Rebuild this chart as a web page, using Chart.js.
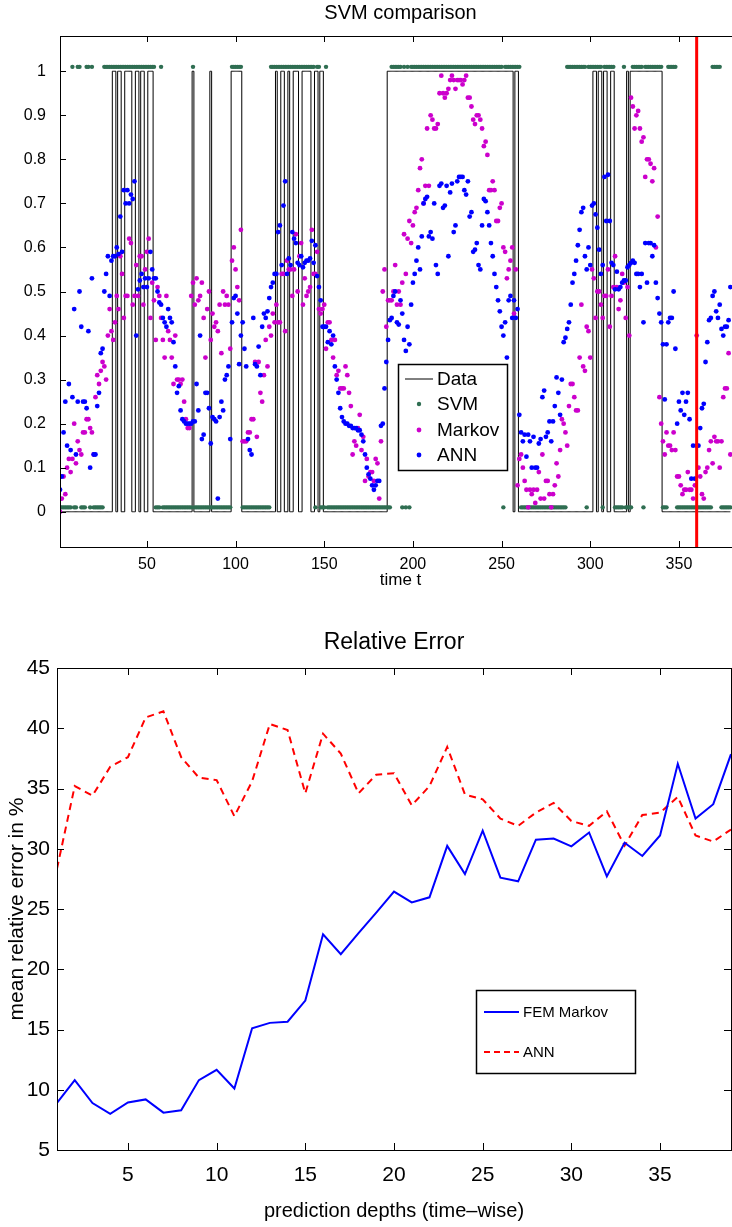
<!DOCTYPE html>
<html>
<head>
<meta charset="utf-8">
<script src="https://cdn.jsdelivr.net/npm/chart.js@4.4.1/dist/chart.umd.min.js"></script>
<style>
  html, body { margin: 0; padding: 0; background: #fff; overflow: hidden; width: 732px; height: 1227px; }
  #svm-box { position: absolute; left: 0; top: 0; width: 760px; height: 600px; }
  #error-box { position: absolute; left: 0; top: 600px; width: 732px; height: 627px; }
</style>
</head>
<body>
<div id="svm-box"><canvas id="svm-chart"></canvas></div>
<div id="error-box"><canvas id="error-chart"></canvas></div>
<script>
// --- SVM comparison (top) ---  values per time step t = 1, 2, 3, ...
const annValues = [
  0.05, 0.08, 0.18, 0.25, 0.15, 0.29, 0.14, 0.26, 0.46, 0.13,
  0.25, 0.50, 0.42, 0.25, 0.25, 0.235, 0.41, 0.10, 0.53, 0.13,
  0.13, 0.24, 0.27, 0.36, 0.37, 0.50, 0.54, 0.58, 0.49, 0.57,
  0.58, 0.58, 0.60, 0.585, 0.67, 0.59, 0.73, 0.70, 0.73, 0.70,
  0.72, 0.71, 0.75, 0.40, 0.505, 0.525, 0.54, 0.51, 0.53, 0.51,
  0.53, 0.59, 0.55, 0.53, 0.53, 0.50, 0.475, 0.47, 0.44, 0.43,
  0.42, 0.46, 0.44, 0.43, 0.385, 0.33, 0.27, 0.285, 0.23, 0.21,
  0.205, 0.20, 0.20, 0.20, 0.20, 0.205, 0.205, 0.29, 0.23, 0.40,
  0.165, 0.175, 0.27, 0.27, 0.235, 0.155, 0.215, 0.21, 0.205, 0.03,
  0.215, 0.25, 0.23, 0.30, 0.31, 0.33, 0.165, 0.43, 0.485, 0.49,
  0.45, 0.335, 0.40, 0.43, 0.37, 0.33, 0.165, 0.14, 0.13, 0.44,
  0.335, 0.33, 0.375, 0.31, 0.42, 0.45, 0.44, 0.455, 0.485, 0.51,
  0.52, 0.54, 0.54, 0.635, 0.65, 0.56, 0.695, 0.75, 0.54, 0.575,
  0.56, 0.635, 0.62, 0.61, 0.565, 0.56, 0.58, 0.555, 0.565, 0.57,
  0.57, 0.575, 0.615, 0.565, 0.605, 0.535, 0.51, 0.48, 0.42, 0.42,
  0.42, 0.385, 0.41, 0.38, 0.40, 0.33, 0.30, 0.27, 0.235, 0.215,
  0.205, 0.20, 0.20, 0.195, 0.195, 0.19, 0.19, 0.19, 0.185, 0.185,
  0.175, 0.16, 0.13, 0.10, 0.085, 0.075, 0.06, 0.05, 0.06, 0.07,
  0.07, 0.195, 0.20, 0.28, 0.34, 0.39, 0.435, 0.44, 0.49, 0.50,
  0.43, 0.425, 0.48, 0.45, 0.39, 0.365, 0.42, 0.38, 0.47, 0.52,
  0.54, 0.57, 0.60, 0.55, 0.625, 0.70, 0.71, 0.715, 0.625, 0.635,
  0.62, 0.70, 0.56, 0.54, 0.74, 0.745, 0.69, 0.695, 0.74, 0.58,
  0.725, 0.745, 0.635, 0.65, 0.75, 0.76, 0.76, 0.76, 0.73, 0.72,
  0.75, 0.67, 0.68, 0.59, 0.595, 0.61, 0.56, 0.55, 0.65, 0.71,
  0.705, 0.68, 0.65, 0.61, 0.58, 0.54, 0.51, 0.48, 0.455, 0.42,
  0.40, 0.43, 0.35, 0.48, 0.49, 0.44, 0.48, 0.44, 0.46, 0.22,
  0.18, 0.16, 0.175, 0.125, 0.175, 0.16, 0.10, 0.17, 0.10, 0.10,
  0.155, 0.165, 0.26, 0.275, 0.17, 0.18, 0.205, 0.16, 0.205, 0.24,
  0.305, 0.27, 0.22, 0.30, 0.385, 0.395, 0.415, 0.43, 0.47, 0.52,
  0.54, 0.57, 0.605, 0.64, 0.68, 0.69, 0.58, 0.55, 0.60, 0.56,
  0.695, 0.70, 0.675, 0.645, 0.595, 0.54, 0.56, 0.76, 0.66, 0.765,
  0.66, 0.565, 0.56, 0.505, 0.545, 0.505, 0.51, 0.52, 0.525, 0.525,
  0.555, 0.56, 0.565, 0.57, 0.565, 0.54, 0.54, 0.51, 0.54, 0.43,
  0.61, 0.52, 0.61, 0.61, 0.58, 0.605, 0.52, 0.485, 0.45, 0.43,
  0.38, 0.255, 0.38, 0.43, 0.44, 0.44, 0.50, 0.37, 0.20, 0.25,
  0.23, 0.27, 0.22, 0.25, 0.27, 0.21, 0.075, 0.15, 0.075, 0.15,
  0.15, 0.19, 0.235, 0.245, 0.34, 0.385, 0.435, 0.44, 0.49, 0.50,
  0.455, 0.44, 0.47, 0.415, 0.40, 0.42, 0.42, 0.435, 0.51
];

const markovValues = [
  0.00, 0.03, 0.08, 0.04, 0.10, 0.12, 0.09, 0.12, 0.20, 0.11,
  0.16, 0.14, 0.13, 0.18, 0.18, 0.21, 0.21, 0.19, 0.18, 0.13,
  0.26, 0.31, 0.29, 0.32, 0.34, 0.33, 0.30, 0.40, 0.46, 0.41,
  0.39, 0.43, 0.49, 0.46, 0.58, 0.54, 0.44, 0.49, 0.49, 0.62,
  0.61, 0.47, 0.49, 0.56, 0.49, 0.58, 0.58, 0.47, 0.55, 0.59,
  0.62, 0.44, 0.52, 0.48, 0.39, 0.51, 0.49, 0.44, 0.39, 0.35,
  0.49, 0.41, 0.39, 0.35, 0.29, 0.40, 0.30, 0.30, 0.29, 0.30,
  0.25, 0.21, 0.19, 0.19, 0.49, 0.52, 0.47, 0.53, 0.48, 0.49,
  0.52, 0.44, 0.35, 0.46, 0.50, 0.39, 0.45, 0.42, 0.43, 0.41,
  0.47, 0.36, 0.50, 0.47, 0.49, 0.47, 0.37, 0.57, 0.60, 0.55,
  0.51, 0.48, 0.64, 0.16, 0.16, 0.16, 0.18, 0.18, 0.21, 0.21,
  0.34, 0.17, 0.34, 0.27, 0.25, 0.31, 0.39, 0.33, 0.42, 0.40,
  0.45, 0.43, 0.47, 0.43, 0.43, 0.54, 0.54, 0.41, 0.57, 0.55,
  0.55, 0.49, 0.55, 0.63, 0.50, 0.58, 0.61, 0.47, 0.53, 0.49,
  0.50, 0.51, 0.64, 0.54, 0.54, 0.59, 0.46, 0.45, 0.46, 0.47,
  0.37, 0.43, 0.43, 0.39, 0.35, 0.39, 0.31, 0.32, 0.28, 0.28,
  0.28, 0.33, 0.31, 0.27, 0.24, 0.13, 0.16, 0.15, 0.19, 0.22,
  0.14, 0.17, 0.07, 0.12, 0.08, 0.09, 0.09, 0.07, 0.12, 0.11,
  0.03, 0.16, 0.50, 0.55, 0.42, 0.48, 0.48, 0.48, 0.50, 0.56,
  0.47, 0.50, 0.47, 0.52, 0.63, 0.54, 0.62, 0.66, 0.61, 0.65,
  0.68, 0.69, 0.73, 0.78, 0.80, 0.70, 0.74, 0.87, 0.74, 0.90,
  0.89, 0.87, 0.87, 0.88, 0.95, 0.99, 0.95, 0.94, 0.95, 0.96,
  0.98, 0.99, 0.98, 0.96, 0.98, 0.98, 0.98, 0.97, 0.98, 0.99,
  0.94, 0.94, 0.92, 0.89, 0.88, 0.90, 0.90, 0.89, 0.87, 0.83,
  0.84, 0.81, 0.73, 0.73, 0.75, 0.73, 0.66, 0.66, 0.69, 0.70,
  0.60, 0.59, 0.53, 0.55, 0.57, 0.60, 0.45, 0.55, 0.06, 0.12,
  0.13, 0.10, 0.07, 0.05, 0.01, 0.05, 0.04, 0.05, 0.02, 0.05,
  0.09, 0.03, 0.13, 0.03, 0.07, 0.07, 0.04, 0.01, 0.04, 0.06,
  0.11, 0.08, 0.14, 0.21, 0.20, 0.18, 0.15, 0.24, 0.29, 0.29,
  0.26, 0.23, 0.23, 0.35, 0.47, 0.33, 0.32, 0.42, 0.41, 0.35,
  0.55, 0.53, 0.44, 0.50, 0.50, 0.47, 0.44, 0.49, 0.49, 0.55,
  0.42, 0.49, 0.51, 0.58, 0.51, 0.46, 0.48, 0.54, 0.52, 0.44,
  0.51, 0.40, 0.94, 0.92, 0.87, 0.90, 0.91, 0.87, 0.84, 0.85,
  0.76, 0.80, 0.80, 0.79, 0.75, 0.78, 0.60, 0.67, 0.26, 0.20,
  0.16, 0.13, 0.18, 0.15, 0.15, 0.14, 0.18, 0.14, 0.08, 0.08,
  0.06, 0.04, 0.05, 0.05, 0.09, 0.05, 0.05, 0.03, 0.06, 0.40,
  0.10, 0.08, 0.04, 0.03, 0.09, 0.10, 0.14, 0.16, 0.11, 0.17,
  0.16, 0.16, 0.10, 0.16, 0.26, 0.28, 0.28, 0.36, 0.13
];

// time steps (inclusive ranges) where the true state is 1
const dataOnSpans = [
  [31, 32], [34, 35], [38, 41], [44, 45], [47, 48], [51, 53], [76, 76], [86, 86],
  [98, 103], [123, 123], [126, 127], [130, 130], [133, 135], [138, 142], [145, 146],
  [148, 149], [186, 256], [258, 259], [302, 303], [305, 306], [308, 309], [312, 313],
  [321, 321], [323, 340]
];
// time steps where the SVM predicts 1
const svmOnSpans = [
  [8, 8], [11, 12], [16, 17], [19, 19], [26, 54], [58, 58], [76, 76], [98, 103],
  [120, 144], [146, 147], [151, 151], [188, 193], [195, 195], [197, 197], [199, 250],
  [252, 260], [287, 297], [299, 306], [308, 313], [319, 319], [324, 329], [331, 340],
  [344, 348], [369, 373]
];
const markerTime = 360;
const xTicksTop = [50, 100, 150, 200, 250, 300, 350];
const yTicksTop = [0, 0.1, 0.2, 0.3, 0.4, 0.5, 0.6, 0.7, 0.8, 0.9, 1];

// --- Relative Error (bottom) ---
const depths = [1, 2, 3, 4, 5, 6, 7, 8, 9, 10, 11, 12, 13, 14, 15, 16, 17, 18, 19, 20,
  21, 22, 23, 24, 25, 26, 27, 28, 29, 30, 31, 32, 33, 34, 35, 36, 37, 38, 39];
const femMarkovError = [8.9, 10.8, 8.9, 8.0, 8.95, 9.2, 8.1, 8.3, 10.8, 11.65,
  10.1, 15.1, 15.55, 15.65, 17.4, 22.9, 21.25, 23.0, 24.7, 26.45,
  25.55, 25.97, 30.24, 27.9, 31.5, 27.6, 27.3, 30.75, 30.85, 30.2,
  31.35, 27.7, 30.5, 29.4, 31.1, 37.05, 32.5, 33.7, 37.85];
const annError = [28.35, 35.2, 34.4, 36.8, 37.6, 40.9, 41.4, 37.6, 35.9, 35.7,
  32.7, 35.6, 40.35, 39.85, 34.6, 39.55, 37.9, 34.6, 36.15, 36.27,
  33.6, 35.2, 38.45, 34.5, 34.1, 32.5, 31.9, 33.0, 33.8, 32.3,
  31.9, 33.1, 30.25, 32.8, 33.0, 34.3, 31.1, 30.6, 31.6];
const xTicksBottom = [5, 10, 15, 20, 25, 30, 35];
const yTicksBottom = [5, 10, 15, 20, 25, 30, 35, 40, 45];

const FONT = "'Liberation Sans', Arial, Helvetica, sans-serif";
Chart.defaults.font.family = FONT;
Chart.defaults.color = '#000';

const SVM_GREEN = '#2f6e52';
const MARKOV_MAGENTA = '#cc00cc';
const ANN_BLUE = '#0000ff';

const inSpans = (t, spans) => spans.some(([a, b]) => t >= a && t <= b);
const timeSteps = annValues.map((v, i) => i + 1);

// matlab style box: frame + inward ticks on all four sides, title, legend
const matlabBox = {
  id: 'matlabBox',
  afterDatasetsDraw(chart, args, opts) {
    const { ctx, chartArea: a, scales: { x, y } } = chart;
    ctx.save();
    ctx.strokeStyle = '#000';
    ctx.lineWidth = 1;
    ctx.strokeRect(Math.round(a.left) + 0.5, Math.round(a.top) + 0.5,
      Math.round(a.right - a.left), Math.round(a.bottom - a.top));
    const len = opts.tickLen;
    ctx.beginPath();
    x.ticks.forEach(t => {
      const px = Math.round(x.getPixelForValue(t.value)) + 0.5;
      ctx.moveTo(px, a.bottom); ctx.lineTo(px, a.bottom - len);
      ctx.moveTo(px, a.top); ctx.lineTo(px, a.top + len);
    });
    y.ticks.forEach(t => {
      const py = Math.round(y.getPixelForValue(t.value)) + 0.5;
      ctx.moveTo(a.left, py); ctx.lineTo(a.left + len, py);
      ctx.moveTo(a.right, py); ctx.lineTo(a.right - len, py);
    });
    ctx.stroke();

    // title
    ctx.fillStyle = '#000';
    ctx.font = `${opts.titleSize}px ${FONT}`;
    ctx.textAlign = 'center';
    ctx.textBaseline = 'middle';
    ctx.fillText(opts.title, (a.left + a.right) / 2, opts.titleY);

    // legend
    const lg = opts.legend;
    ctx.fillStyle = '#fff';
    ctx.fillRect(lg.x, lg.y, lg.w, lg.h);
    ctx.strokeStyle = '#000';
    ctx.lineWidth = 1.5;
    ctx.strokeRect(lg.x, lg.y, lg.w, lg.h);
    ctx.font = `${lg.fontSize}px ${FONT}`;
    ctx.textAlign = 'left';
    lg.items.forEach((it, i) => {
      const ry = lg.rows[i];
      if (it.kind === 'dot') {
        ctx.fillStyle = it.color;
        ctx.beginPath();
        ctx.arc((lg.sampleX0 + lg.sampleX1) / 2, ry, it.r, 0, Math.PI * 2);
        ctx.fill();
      } else {
        ctx.strokeStyle = it.color;
        ctx.lineWidth = it.width;
        ctx.setLineDash(it.dash || []);
        ctx.beginPath();
        ctx.moveTo(lg.sampleX0, ry); ctx.lineTo(lg.sampleX1, ry);
        ctx.stroke();
        ctx.setLineDash([]);
      }
      ctx.fillStyle = '#000';
      ctx.fillText(it.label, lg.textX, ry + 1);
    });
    ctx.restore();
  }
};

function fixedTicks(values) {
  return scale => { scale.ticks = values.map(v => ({ value: v })); };
}

// top chart
new Chart(document.getElementById('svm-chart'), {
  type: 'scatter',
  data: {
    datasets: [
      {
        label: 'marker',
        data: [{ x: markerTime, y: -0.08 }, { x: markerTime, y: 1.08 }],
        showLine: true, borderColor: '#ff0000', borderWidth: 3, pointRadius: 0, order: 0
      },
      {
        label: 'ANN',
        data: timeSteps.map((t, i) => ({ x: t, y: annValues[i] })),
        backgroundColor: ANN_BLUE, pointRadius: 2.4, pointBorderWidth: 0, order: 1
      },
      {
        label: 'Markov',
        data: markovValues.map((v, i) => ({ x: i + 1, y: v })),
        backgroundColor: MARKOV_MAGENTA, pointRadius: 2.4, pointBorderWidth: 0, order: 2
      },
      {
        label: 'SVM',
        data: timeSteps.map(t => ({ x: t, y: inSpans(t, svmOnSpans) ? 1.01 : 0.01 })),
        backgroundColor: SVM_GREEN, pointRadius: 2.2, pointBorderWidth: 0, order: 3
      },
      {
        label: 'Data',
        data: timeSteps.map(t => ({ x: t, y: inSpans(t, dataOnSpans) ? 1 : 0 })),
        showLine: true, stepped: 'middle', borderColor: '#000', borderWidth: 1,
        pointRadius: 0, order: 4
      }
    ]
  },
  options: {
    responsive: true,
    maintainAspectRatio: false,
    animation: false,
    events: [],
    layout: { padding: { top: 36, right: 19, bottom: 3, left: 0 } },
    scales: {
      x: {
        type: 'linear', min: 1, max: 385,
        afterBuildTicks: fixedTicks(xTicksTop),
        afterFit: s => { s.height = 50; },
        grid: { display: false, drawTicks: false },
        border: { display: false },
        ticks: { font: { size: 16 }, padding: 8, maxRotation: 0 },
        title: { display: true, text: 'time t', font: { size: 17 }, padding: { top: 0, bottom: 6 } }
      },
      y: {
        min: -0.08, max: 1.08,
        afterBuildTicks: fixedTicks(yTicksTop),
        afterFit: s => { s.width = 60; },
        grid: { display: false, drawTicks: false },
        border: { display: false },
        ticks: { font: { size: 16 }, padding: 14, callback: v => String(+v.toFixed(1)) }
      }
    },
    plugins: {
      legend: { display: false },
      tooltip: { enabled: false },
      matlabBox: {
        tickLen: 6, title: 'SVM comparison', titleSize: 20, titleY: 13,
        legend: {
          x: 398.5, y: 364.5, w: 109, h: 106, fontSize: 19,
          sampleX0: 405, sampleX1: 433, textX: 437, rows: [379, 404, 430, 455],
          items: [
            { label: 'Data', kind: 'line', color: '#000', width: 1 },
            { label: 'SVM', kind: 'dot', color: SVM_GREEN, r: 2.2 },
            { label: 'Markov', kind: 'dot', color: MARKOV_MAGENTA, r: 2.4 },
            { label: 'ANN', kind: 'dot', color: ANN_BLUE, r: 2.4 }
          ]
        }
      }
    }
  },
  plugins: [matlabBox]
});

// bottom chart
new Chart(document.getElementById('error-chart'), {
  type: 'line',
  data: {
    datasets: [
      {
        label: 'FEM Markov',
        data: depths.map((d, i) => ({ x: d, y: femMarkovError[i] })),
        borderColor: '#0000ff', borderWidth: 2, pointRadius: 0, tension: 0
      },
      {
        label: 'ANN',
        data: depths.map((d, i) => ({ x: d, y: annError[i] })),
        borderColor: '#ff0000', borderWidth: 2, borderDash: [7, 5], pointRadius: 0, tension: 0
      }
    ]
  },
  options: {
    responsive: true,
    maintainAspectRatio: false,
    animation: false,
    events: [],
    layout: { padding: { top: 68, right: 1, bottom: 2, left: 0 } },
    scales: {
      x: {
        type: 'linear', min: 1, max: 39,
        afterBuildTicks: fixedTicks(xTicksBottom),
        afterFit: s => { s.height = 75; },
        grid: { display: false, drawTicks: false },
        border: { display: false },
        ticks: { font: { size: 21 }, padding: 13, maxRotation: 0 },
        title: { display: true, text: 'prediction depths (time\u2013wise)', font: { size: 20 }, padding: { top: 0, bottom: 2 } }
      },
      y: {
        min: 5, max: 45,
        afterBuildTicks: fixedTicks(yTicksBottom),
        afterFit: s => { s.width = 57; },
        grid: { display: false, drawTicks: false },
        border: { display: false },
        ticks: { font: { size: 21 }, padding: 7 },
        title: { display: true, text: 'mean relative error in %', font: { size: 21 }, padding: { top: 5, bottom: 0 } }
      }
    },
    plugins: {
      legend: { display: false },
      tooltip: { enabled: false },
      matlabBox: {
        tickLen: 7, title: 'Relative Error', titleSize: 23, titleY: 43,
        legend: {
          x: 476.5, y: 390.5, w: 159, h: 83, fontSize: 15,
          sampleX0: 484, sampleX1: 519, textX: 523, rows: [412, 452],
          items: [
            { label: 'FEM Markov', kind: 'line', color: '#0000ff', width: 2 },
            { label: 'ANN', kind: 'line', color: '#ff0000', width: 2, dash: [6, 4] }
          ]
        }
      }
    }
  },
  plugins: [matlabBox]
});
</script>
</body>
</html>
